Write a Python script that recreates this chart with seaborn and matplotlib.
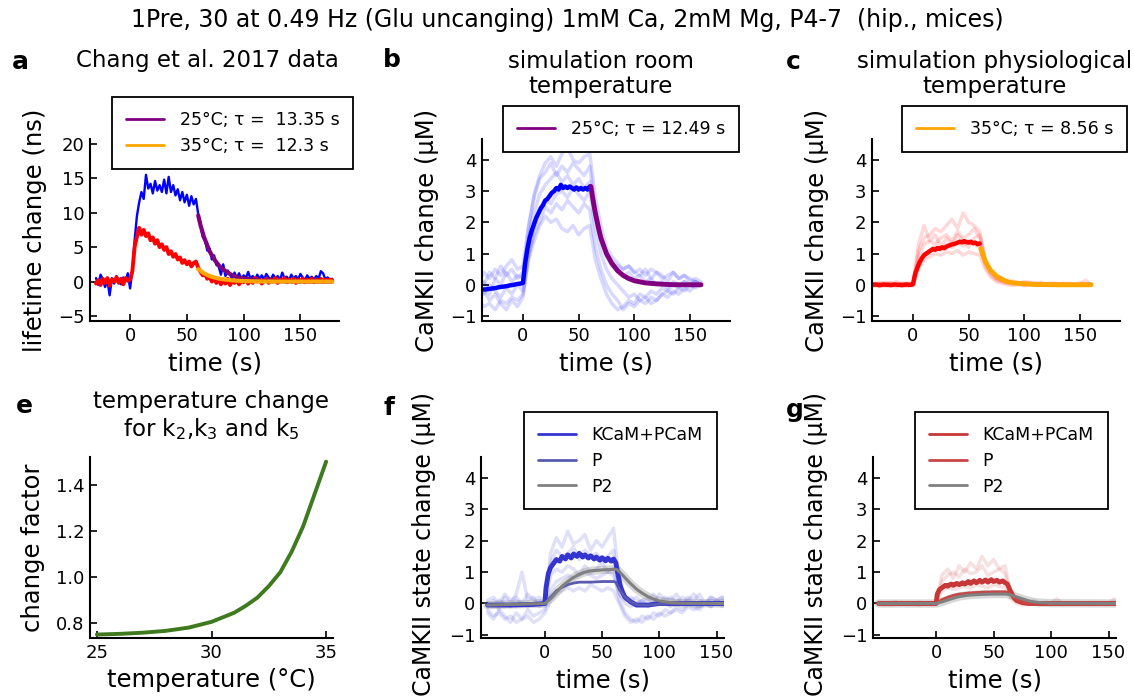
import numpy as np
import matplotlib
matplotlib.use("Agg")
import matplotlib.pyplot as plt
from matplotlib.lines import Line2D
import seaborn as sns

# ---------------- data ----------------
# panel a: Chang et al. 2017, 2 s sampling from t = -30 s
a_blue = [0.5, -0.5, 1.0, 0.3, -0.8, 0.2, -2.0, 0.5, -0.3, 0.8,
          0.2, -0.4, 0.6, 0.1, 1.2, -1.0, 1.5, 6.0, 9.5, 11.5,
          13.0, 12.0, 15.5, 13.5, 14.2, 12.8, 14.6, 13.2, 14.0, 13.0,
          14.8, 12.8, 15.2, 13.0, 14.0, 12.5, 13.4, 11.8, 13.0, 11.5,
          12.6, 11.0, 12.4, 11.2, 12.0, 9.8, 8.2, 6.5, 6.0, 4.5,
          4.8, 3.2, 3.8, 2.4, 2.2, 1.0, 2.5, 0.8, 1.6, 1.0,
          0.4, 1.3, 0.5, 1.2, 0.3, 0.9, 0.5, 1.4, 0.4, 0.8,
          0.2, 1.0, 0.4, 0.9, 0.3, 1.1, 0.6, 0.3, 1.0, 0.4,
          0.8, 0.2, 1.3, 0.5, 0.7, 0.2, 1.0, 0.4, 0.8, 0.3,
          1.1, 0.6, 0.2, 0.9, 0.4, 0.7, 0.3, 0.8, 0.4, 1.5,
          1.2, 0.3, 0.6, 0.2, 0.4]
a_red = [-0.3, 0.2, -0.5, 0.4, -0.2, 0.5, -0.6, 0.3, 0.0, 0.6,
         -0.2, 0.4, -0.4, 0.5, 0.1, 0.3, 1.5, 5.0, 6.5, 7.8,
         6.8, 7.5, 6.6, 7.0, 6.0, 6.4, 5.5, 6.0, 5.0, 5.4,
         4.6, 5.0, 4.0, 4.4, 3.6, 4.0, 3.2, 3.5, 2.7, 3.1,
         2.5, 2.9, 2.2, 2.7, 2.9, 2.0, 1.4, 0.9, 1.1, 0.4,
         0.7, 0.0, 0.5, -0.2, 0.3, -0.4, 0.2, -0.3, 0.4, -0.5,
         0.1, -0.2, 0.3, -0.4, 0.2, -0.1, 0.4, -0.3, 0.2, -0.2,
         0.5, 0.0, 0.3, -0.3, 0.2, 0.4, -0.2, 0.3, 0.0, 0.5,
         -0.2, 0.3, 0.1, 0.5, -0.1, 0.3, 0.0, 0.4, -0.2, 0.3,
         0.1, 0.4, -0.1, 0.3, 0.0, 0.4, -0.1, 0.3, 0.1, 0.4,
         0.0, 0.3, 0.1, 0.3, 0.2]
a_fit_t = [60, 62, 65, 70, 75, 80, 85, 90, 95, 100, 110, 120, 130, 140, 160, 178]
a_fit_25 = [9.6, 8.2, 6.5, 4.4, 3.0, 2.0, 1.4, 0.9, 0.6, 0.45, 0.2, 0.1, 0.05, 0.02, 0.0, 0.0]
a_fit_35 = [1.8, 1.55, 1.2, 0.8, 0.55, 0.37, 0.25, 0.17, 0.11, 0.07, 0.03, 0.01, 0.0, 0.0, 0.0, 0.0]

# panels b / c: single trials, 5 s sampling from t = -40 s
b_trials = [
    [-0.2, 0.1, -0.3, 0.2, 0.0, 0.4, 0.1, 0.3, 0.2, 1.8, 2.9, 3.5, 3.9, 4.1, 3.8, 4.2, 4.4, 4.0, 3.9, 4.1, 4.2,
     2.8, 1.9, 1.2, 0.9, 0.7, 0.5, 0.6, 0.4, 0.3, 0.5, 0.2, 0.4, 0.3, 0.1, 0.4, 0.2, 0.3, 0.1, 0.2, 0.1],
    [-0.5, -0.7, -0.6, -0.8, -0.5, -0.6, -0.4, -0.5, -0.3, 0.8, 1.4, 1.9, 2.2, 2.0, 2.1, 1.8, 1.7, 1.9, 1.6, 1.8, 1.9,
     0.8, 0.2, -0.3, -0.6, -0.8, -0.7, -0.5, -0.6, -0.3, -0.4, -0.2, -0.3, -0.1, -0.2, 0.0, -0.1, 0.1, 0.0, 0.1, 0.0],
    [0.3, 0.0, 0.4, 0.2, 0.6, 0.3, 0.5, 0.2, 0.4, 1.5, 2.3, 2.9, 3.2, 3.4, 3.6, 3.3, 3.5, 3.2, 3.4, 3.1, 3.3,
     2.1, 1.4, 0.9, 0.6, 0.5, 0.3, 0.4, 0.2, 0.3, 0.1, 0.2, 0.0, 0.1, -0.1, 0.1, 0.0, 0.1, 0.0, 0.1, 0.0],
    [-0.1, -0.3, 0.0, -0.2, -0.4, -0.1, -0.3, 0.0, -0.2, 1.0, 1.8, 2.4, 2.7, 2.6, 2.9, 3.0, 2.8, 3.1, 2.9, 2.7, 3.0,
     1.8, 1.0, 0.5, 0.2, 0.0, -0.2, -0.4, -0.3, -0.5, -0.4, -0.6, -0.5, -0.3, -0.4, -0.2, -0.3, -0.1, -0.2, 0.0, 0.0],
    [0.1, 0.4, 0.2, 0.5, 0.3, 0.6, 0.8, 0.5, 0.6, 1.9, 2.8, 3.4, 3.6, 3.9, 3.5, 3.8, 3.6, 3.9, 3.7, 3.5, 3.8,
     2.4, 1.5, 1.0, 0.7, 0.6, 0.5, 0.6, 0.4, 0.5, 0.3, 0.5, 0.4, 0.2, 0.3, 0.4, 0.2, 0.3, 0.2, 0.1, 0.0],
    [-0.4, -0.2, -0.5, -0.3, -0.6, -0.8, -0.5, -0.7, -0.4, 0.9, 1.6, 2.0, 2.5, 2.3, 2.6, 2.4, 2.7, 2.5, 2.3, 2.6, 2.4,
     1.2, 0.5, 0.0, -0.3, -0.5, -0.8, -0.6, -0.7, -0.5, -0.6, -0.4, -0.5, -0.3, -0.2, -0.3, -0.1, -0.2, 0.0, -0.1, 0.0],
]
c_trials = [
    [0.05, 0.0, 0.08, 0.02, 0.06, 0.0, 0.04, 0.07, 0.02, 1.1, 1.5, 1.6, 1.8, 1.7, 1.9, 2.1, 1.8, 2.3, 2.0, 1.9, 1.7,
     0.8, 0.4, 0.25, 0.15, 0.1, 0.12, 0.05, 0.1, 0.08, 0.05, 0.07, 0.03, 0.06, 0.04, 0.02, 0.05, 0.03, 0.06, 0.02, 0.03],
    [-0.05, -0.02, -0.06, 0.0, -0.04, -0.07, -0.02, -0.05, -0.03, 0.5, 0.8, 0.9, 1.0, 0.95, 1.05, 1.0, 1.1, 0.95, 1.05, 1.0, 0.95,
     0.5, 0.25, 0.1, 0.05, 0.0, -0.02, 0.0, -0.03, 0.0, -0.02, 0.01, -0.01, 0.0, -0.02, 0.01, 0.0, -0.01, 0.0, 0.01, 0.0],
    [0.02, 0.06, 0.03, 0.08, 0.04, 0.1, 0.05, 0.02, 0.06, 0.9, 1.3, 1.4, 1.3, 1.5, 1.6, 1.4, 1.7, 1.5, 1.6, 1.8, 1.5,
     0.7, 0.4, 0.2, 0.12, 0.08, 0.05, 0.07, 0.04, 0.06, 0.03, 0.05, 0.02, 0.04, 0.03, 0.05, 0.02, 0.03, 0.01, 0.04, 0.02],
    [-0.02, 0.03, -0.04, 0.01, 0.05, -0.01, 0.02, -0.03, 0.0, 0.7, 1.0, 1.1, 1.2, 1.1, 1.3, 1.2, 1.35, 1.25, 1.4, 1.3, 1.2,
     0.6, 0.3, 0.15, 0.08, 0.04, 0.02, 0.03, 0.0, 0.02, 0.01, 0.03, 0.0, 0.02, 0.01, 0.0, 0.02, 0.0, 0.01, 0.0, 0.0],
    [0.0, -0.04, 0.02, -0.06, -0.01, 0.03, -0.05, 0.0, -0.02, 1.3, 1.9, 1.4, 1.6, 1.2, 1.5, 1.3, 1.6, 1.4, 1.2, 1.5, 1.6,
     0.8, 0.45, 0.22, 0.14, 0.08, 0.06, 0.04, 0.07, 0.03, 0.05, 0.02, 0.04, 0.01, 0.03, 0.02, 0.0, 0.02, 0.01, 0.15, 0.0],
]
# trial means, 2 s sampling from t = -36 s up to stimulus end
b_mean = [-0.15, -0.15, -0.14, -0.13, -0.12, -0.11, -0.10, -0.08, -0.07, -0.06,
          -0.05, -0.04, -0.02, -0.01, 0.0, 0.02, 0.03, 0.04, 0.06, 0.7,
          1.15, 1.5, 1.75, 1.95, 2.15, 2.3, 2.45, 2.55, 2.7, 2.75,
          2.85, 2.95, 3.0, 3.1, 3.05, 3.2, 3.1, 3.15, 3.1, 3.15,
          3.1, 3.05, 3.12, 3.05, 3.1, 3.05, 3.1, 3.05, 3.15]
c_mean = [0.0, 0.01, 0.0, -0.01, 0.0, 0.01, 0.0, 0.0, -0.01, 0.0,
          0.01, 0.0, 0.0, -0.01, 0.0, 0.01, 0.0, 0.0, 0.02, 0.35,
          0.55, 0.72, 0.85, 0.95, 1.0, 1.05, 1.1, 1.15, 1.12, 1.18,
          1.15, 1.2, 1.17, 1.22, 1.25, 1.28, 1.3, 1.32, 1.35, 1.38,
          1.36, 1.4, 1.37, 1.35, 1.38, 1.33, 1.35, 1.3, 1.32]
bc_fit_t = [61, 63, 65, 68, 70, 75, 80, 85, 90, 95, 100, 110, 120, 130, 140, 160]
b_fit = [3.15, 2.7, 2.3, 1.8, 1.5, 1.0, 0.68, 0.45, 0.3, 0.2, 0.13, 0.06, 0.03, 0.01, 0.0, 0.0]
c_fit = [1.15, 0.95, 0.75, 0.56, 0.45, 0.28, 0.17, 0.1, 0.06, 0.045, 0.03, 0.01, 0.005, 0.0, 0.0, 0.0]

# panel e: temperature factor
e_temp = [25, 26, 27, 28, 29, 30, 31, 31.5, 32, 32.5, 33, 33.5, 34, 34.5, 35]
e_factor = [0.75, 0.753, 0.758, 0.766, 0.78, 0.805, 0.845, 0.875, 0.91, 0.96, 1.02, 1.11, 1.22, 1.36, 1.5]

# panels f / g: single trials, 5 s sampling from t = -50 s
f_trials = [
    [-0.1, 0.1, -0.2, 0.2, 0.0, 0.3, 1.0, 0.1, 0.2, -0.1, 0.0,
     1.6, 2.1, 1.8, 2.3, 1.9, 2.0, 2.2, 1.7, 2.0, 1.8, 2.1, 2.4,
     0.6, 0.2, 0.1, 0.2, 0.0, 0.1, 0.3, 0.0, 0.2, 0.1, 0.3, 0.0, 0.2, 0.1, 0.3, 0.0, 0.2, 0.1, 0.2, 0.0],
    [-0.3, -0.5, -0.2, -0.4, -0.6, -0.3, -0.5, -0.2, -0.4, -0.3, -0.2,
     0.9, 1.1, 1.0, 1.2, 1.1, 0.9, 1.2, 1.0, 1.1, 1.3, 1.0, 1.1,
     0.1, -0.3, -0.5, -0.6, -0.4, -0.5, -0.3, -0.4, -0.2, -0.3, -0.1, -0.2, 0.0, -0.1, -0.2, 0.0, -0.1, 0.1, 0.0, -0.1],
    [0.1, 0.2, 0.0, 0.3, 0.1, 0.2, 0.0, 0.3, 0.1, 0.2, 0.1,
     1.3, 1.7, 1.5, 1.6, 1.8, 1.4, 1.7, 1.5, 1.6, 1.4, 1.5, 1.7,
     0.3, 0.1, 0.2, 0.0, 0.1, 0.2, 0.0, 0.3, 0.1, 0.2, 0.0, 0.2, 0.1, 0.3, 0.1, 0.0, 0.2, 0.1, 0.2, 0.1],
    [-0.2, -0.4, -0.3, -0.5, -0.4, -0.6, -0.5, -0.4, -0.6, -0.5, -0.3,
     0.1, 0.3, 0.4, 0.5, 0.4, 0.5, 0.4, 0.6, 0.5, 0.4, 0.5, 0.4,
     0.0, -0.4, -0.6, -0.5, -0.6, -0.4, -0.5, -0.3, -0.4, -0.3, -0.2, -0.3, -0.1, -0.2, -0.1, 0.0, -0.1, 0.0, -0.1, 0.0],
    [0.0, -0.1, 0.1, 0.0, -0.1, 0.1, 0.0, -0.1, 0.0, 0.1, 0.0,
     0.4, 0.7, 0.8, 0.9, 0.8, 0.9, 1.0, 0.9, 0.8, 0.9, 1.0, 0.9,
     0.3, 0.0, -0.1, 0.0, 0.1, -0.1, 0.0, 0.1, 0.0, -0.1, 0.1, 0.0, 0.1, 0.0, -0.1, 0.0, 0.1, 0.0, 0.1, 0.0],
]
g_trials = [
    [0.05, -0.05, 0.02, 0.06, -0.03, 0.04, -0.02, 0.05, 0.0, -0.04, 0.0,
     0.9, 1.1, 0.8, 1.2, 1.0, 1.3, 1.1, 1.5, 1.2, 1.4, 1.1, 1.2,
     0.3, 0.1, 0.05, 0.02, 0.1, 0.0, 0.04, 0.02, 0.15, 0.0, 0.03, 0.0, 0.02, 0.0, 0.01, 0.0, 0.02, 0.0, 0.15, 0.0],
    [-0.02, 0.03, -0.05, 0.0, 0.04, -0.03, 0.02, -0.06, 0.01, 0.03, 0.0,
     0.4, 0.5, 0.45, 0.5, 0.55, 0.5, 0.6, 0.55, 0.5, 0.6, 0.55, 0.5,
     0.15, 0.0, -0.05, -0.02, 0.0, -0.03, 0.0, -0.02, 0.0, -0.01, 0.0, -0.02, 0.0, 0.0, -0.01, 0.0, 0.0, 0.01, 0.0, 0.0],
    [0.0, 0.02, -0.02, 0.03, 0.0, -0.03, 0.02, 0.0, -0.02, 0.01, 0.0,
     0.7, 0.9, 1.0, 0.85, 1.1, 0.95, 1.0, 1.2, 0.9, 1.0, 1.1, 0.95,
     0.2, 0.05, 0.0, 0.02, -0.02, 0.0, 0.03, 0.0, -0.01, 0.0, 0.02, 0.0, -0.02, 0.0, 0.01, 0.0, 0.0, -0.01, 0.0, 0.0],
]
f_kcam_t = [-50, -30, -10, 0, 1, 3, 5, 8, 10, 13, 15, 18, 20, 23, 25, 28, 30, 33, 35, 38, 40, 43, 45, 48, 50,
            53, 55, 58, 60, 62, 64, 66, 68, 70, 75, 80, 90, 100, 120, 140, 156]
f_kcam = [-0.05, -0.05, -0.03, 0.0, 0.5, 0.95, 1.15, 1.3, 1.4, 1.35, 1.5, 1.42, 1.55, 1.45, 1.58, 1.5, 1.6, 1.48, 1.55, 1.45,
          1.52, 1.42, 1.48, 1.38, 1.46, 1.36, 1.44, 1.35, 1.42, 1.3, 0.9, 0.55, 0.35, 0.2, 0.05, -0.05, -0.05, 0.0, 0.0, 0.0, 0.0]
f_p_t = [-50, 0, 5, 10, 15, 20, 25, 30, 40, 50, 60, 62, 65, 70, 75, 80, 90, 100, 120, 156]
f_p = [-0.05, 0.0, 0.2, 0.4, 0.52, 0.6, 0.65, 0.68, 0.68, 0.7, 0.7, 0.68, 0.45, 0.2, 0.05, -0.04, -0.05, -0.02, 0.0, 0.0]
f_p2_t = [-50, 0, 5, 10, 15, 20, 25, 30, 35, 40, 50, 60, 63, 65, 70, 75, 80, 85, 90, 95, 100, 110, 120, 156]
f_p2 = [-0.05, 0.0, 0.15, 0.35, 0.55, 0.7, 0.83, 0.93, 1.0, 1.04, 1.07, 1.09, 1.08, 1.02, 0.82, 0.63, 0.46, 0.33,
        0.22, 0.14, 0.08, 0.03, 0.01, 0.0]
g_kcam_t = [-50, 0, 1, 3, 5, 8, 10, 13, 15, 18, 20, 23, 25, 28, 30, 33, 35, 38, 40, 43, 45, 48, 50, 53, 55, 58,
            60, 62, 64, 66, 68, 70, 75, 80, 156]
g_kcam = [0.0, 0.0, 0.3, 0.45, 0.5, 0.58, 0.55, 0.62, 0.58, 0.64, 0.6, 0.66, 0.62, 0.7, 0.64, 0.72, 0.66, 0.74, 0.68,
          0.75, 0.68, 0.76, 0.7, 0.74, 0.68, 0.72, 0.66, 0.62, 0.45, 0.3, 0.18, 0.1, 0.03, 0.0, 0.0]
g_p_t = [-50, 0, 5, 10, 15, 20, 30, 40, 50, 60, 63, 66, 70, 75, 80, 156]
g_p = [0.0, 0.0, 0.12, 0.2, 0.26, 0.3, 0.34, 0.36, 0.37, 0.37, 0.35, 0.25, 0.14, 0.05, 0.01, 0.0]
g_p2_t = [-50, 0, 5, 10, 15, 20, 25, 30, 40, 50, 60, 63, 66, 70, 75, 80, 85, 90, 100, 156]
g_p2 = [0.0, 0.0, 0.05, 0.11, 0.17, 0.22, 0.25, 0.27, 0.29, 0.3, 0.3, 0.29, 0.26, 0.21, 0.15, 0.09, 0.05, 0.03, 0.01, 0.0]

# ---------------- colours ----------------
BLUE, RED = "#0000ff", "#ff0000"
PURPLE, ORANGE = "#800080", "#ffa500"
GREEN = "#3f7a1f"
F_KCAM, F_P, GRAY = "#3434d0", "#5a5ab0", "#808080"
G_KCAM, G_P = "#c83737", "#c84646"

sns.set_style("ticks")
plt.rcParams["font.family"] = ["DejaVu Sans"]
plt.rcParams["text.color"] = "black"
plt.rcParams["axes.labelcolor"] = "black"

W, H = 1134, 700
fig = plt.figure(figsize=(W / 100, H / 100), dpi=100)


def add_ax(left, top, right, bottom):
    return fig.add_axes([left / W, 1 - bottom / H, (right - left) / W, (bottom - top) / H])


def line(ax, x, y, **kw):
    sns.lineplot(x=np.asarray(x, float), y=np.asarray(y, float), ax=ax, estimator=None,
                 sort=False, legend=False, **kw)


def style(ax, xlim, ylim, xticks, yticks, xlabel, ylabel):
    ax.set_xlim(xlim)
    ax.set_ylim(ylim)
    ax.set_xticks(xticks)
    ax.set_yticks(yticks)
    sns.despine(ax=ax)
    for s in ("left", "bottom"):
        ax.spines[s].set_linewidth(1.5)
        ax.spines[s].set_color("black")
    ax.tick_params(direction="in", length=5, width=1.2, labelsize=13, colors="black",
                   labelcolor="black", pad=4)
    ax.set_xlabel(xlabel, fontsize=17.5, labelpad=5)
    ax.set_ylabel(ylabel, fontsize=17.5, labelpad=8)


def legend(ax, items, x, y):
    handles = [Line2D([0], [0], color=c, lw=2) for c, _ in items]
    leg = ax.legend(handles, [l for _, l in items], loc="upper left",
                    bbox_to_anchor=(x / W, 1 - y / H), bbox_transform=fig.transFigure,
                    borderaxespad=0, fontsize=12.5, frameon=True, fancybox=False, framealpha=1,
                    edgecolor="black", borderpad=0.8, handlelength=2.2,
                    handletextpad=0.9, labelspacing=0.45)
    leg.get_frame().set_linewidth(1.3)


# ---------------- panel a ----------------
ax_a = add_ax(90, 139, 339, 321)
line(ax_a, -30 + 2 * np.arange(len(a_blue)), a_blue, color=BLUE, linewidth=1.7)
line(ax_a, -30 + 2 * np.arange(len(a_red)), a_red, color=RED, linewidth=2.8)
line(ax_a, a_fit_t, a_fit_25, color=PURPLE, linewidth=3)
line(ax_a, a_fit_t, a_fit_35, color=ORANGE, linewidth=3)
style(ax_a, (-35.3, 184), (-5.73, 20.7), [0, 50, 100, 150], [-5, 0, 5, 10, 15, 20],
      "time (s)", "lifetime change (ns)")
legend(ax_a, [(PURPLE, "25°C; τ =  13.35 s"), (ORANGE, "35°C; τ =  12.3 s")], 112, 97)

# ---------------- panels b, c ----------------
for left, trials, mean, fit, col, fcol, lab, lx in [
        (482, b_trials, b_mean, b_fit, BLUE, PURPLE, "25°C; τ = 12.49 s", 503),
        (872, c_trials, c_mean, c_fit, RED, ORANGE, "35°C; τ = 8.56 s", 902)]:
    ax = add_ax(left, 139, left + 248, 321)
    for tr in trials:
        line(ax, -40 + 5 * np.arange(len(tr)), tr, color=col, alpha=0.15, linewidth=2.5)
    line(ax, -36 + 2 * np.arange(len(mean)), mean, color=col, linewidth=3.2)
    line(ax, bc_fit_t, fit, color=fcol, linewidth=3.5)
    style(ax, (-36.8, 186), (-1.16, 4.67), [0, 50, 100, 150], [-1, 0, 1, 2, 3, 4],
          "time (s)", "CaMKII change (μM)")
    legend(ax, [(fcol, lab)], lx, 106)

# ---------------- panel e ----------------
ax_e = add_ax(90, 457, 333, 638)
line(ax_e, e_temp, e_factor, color=GREEN, linewidth=2.8)
style(ax_e, (24.7, 35.3), (0.735, 1.52), [25, 30, 35], [0.8, 1.0, 1.2, 1.4],
      "temperature (°C)", "change factor")
ax_e.set_yticklabels(["0.8", "1.0", "1.2", "1.4"])

# ---------------- panels f, g ----------------
for left, trials, kt, kv, pt, pv, p2t, p2v, kcol, pcol, lx in [
        (481, f_trials, f_kcam_t, f_kcam, f_p_t, f_p, f_p2_t, f_p2, F_KCAM, F_P, 524),
        (873, g_trials, g_kcam_t, g_kcam, g_p_t, g_p, g_p2_t, g_p2, G_KCAM, G_P, 915)]:
    ax = add_ax(left, 457, left + 243, 638)
    for tr in trials:
        line(ax, -50 + 5 * np.arange(len(tr)), tr, color=kcol, alpha=0.15, linewidth=2.5)
    line(ax, p2t, p2v, color=GRAY, alpha=0.3, linewidth=6)
    line(ax, kt, kv, color=kcol, linewidth=3.5)
    line(ax, pt, pv, color=pcol, linewidth=2)
    line(ax, p2t, p2v, color=GRAY, linewidth=2.2)
    x0 = -55.8 if left == 481 else -54.9
    style(ax, (x0, 156.5), (-1.1, 4.67), [0, 50, 100, 150], [-1, 0, 1, 2, 3, 4],
          "time (s)", "CaMKII state change (μM)")
    # long label: keep it inside the figure, a little above the axes centre
    ax.yaxis.label.set_fontsize(17)
    ax.yaxis.set_label_coords(-0.185, 0.52)
    legend(ax, [(kcol, "KCaM+PCaM"), (pcol, "P"), (GRAY, "P2")], lx, 412)

# ---------------- titles and panel letters ----------------
fig.text(567, H - 20, "1Pre, 30 at 0.49 Hz (Glu uncanging) 1mM Ca, 2mM Mg, P4-7  (hip., mices)",
         transform=None, ha="center", va="center", fontsize=17)
for x, y, txt in [(207, 60, "Chang et al. 2017 data"),
                  (601, 74, "simulation room\ntemperature"),
                  (995, 74, "simulation physiological\ntemperature"),
                  (211, 416, "temperature change\nfor k$_2$,k$_3$ and k$_5$")]:
    fig.text(x, H - y, txt, transform=None, ha="center", va="center", fontsize=16.5, linespacing=1.15)
for x, y, txt in [(20, 62, "a"), (392, 60, "b"), (793, 62, "c"),
                  (24, 406, "e"), (389, 408, "f"), (795, 410, "g")]:
    fig.text(x, H - y, txt, transform=None, ha="center", va="center", fontsize=18, fontweight="bold")

fig.savefig("out.png", dpi=100)
